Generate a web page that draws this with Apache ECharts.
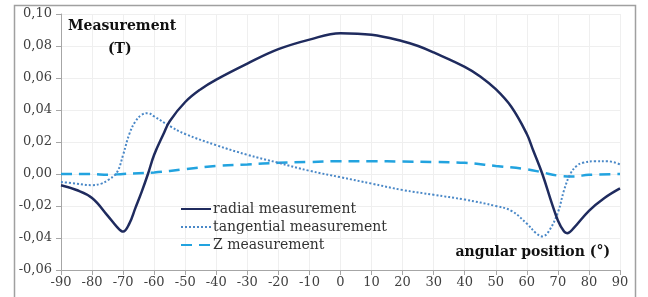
<!DOCTYPE html>
<html>
<head>
<meta charset="utf-8">
<script src="https://cdn.jsdelivr.net/npm/echarts@6/dist/echarts.min.js"></script>
<style>
  html, body { margin: 0; padding: 0; background: #fff; }
  #chart { width: 648px; height: 297px; }
</style>
</head>
<body>
<div id="chart"></div>
<script>
// angles (deg) and values (T)
var radialAngle = [-90, -85, -80, -75, -72, -70, -68, -66, -64, -62, -60, -57, -55, -50, -45, -40, -30, -20, -10, 0, 10, 20, 25, 30, 40, 45, 50, 55, 60, 62, 65, 68, 70, 72, 73, 75, 80, 85, 90];
var radialVal = [-0.007, -0.010, -0.015, -0.026, -0.033, -0.036, -0.031, -0.021, -0.011, 0.000, 0.012, 0.025, 0.033, 0.045, 0.053, 0.059, 0.069, 0.078, 0.084, 0.088, 0.087, 0.083, 0.080, 0.076, 0.067, 0.061, 0.053, 0.042, 0.025, 0.015, 0.000, -0.018, -0.029, -0.036, -0.037, -0.034, -0.023, -0.015, -0.009];

var tangAngle = [-90, -85, -80, -77, -75, -72, -70, -68, -66, -64, -62, -60, -55, -50, -40, -30, -20, -10, 0, 10, 20, 30, 40, 50, 55, 60, 63, 65, 67, 70, 72, 74, 76, 78, 82, 86, 90];
var tangVal = [-0.005, -0.006, -0.007, -0.006, -0.004, 0.001, 0.012, 0.025, 0.033, 0.037, 0.038, 0.036, 0.030, 0.025, 0.018, 0.012, 0.007, 0.002, -0.002, -0.006, -0.010, -0.013, -0.016, -0.020, -0.023, -0.031, -0.037, -0.039, -0.036, -0.024, -0.010, 0.000, 0.005, 0.007, 0.008, 0.008, 0.006];

var zAngle = [-90, -80, -75, -70, -60, -50, -40, -30, -20, -10, 0, 10, 20, 30, 40, 50, 60, 65, 70, 75, 80, 90];
var zVal = [0.000, 0.000, -0.0005, 0.000, 0.001, 0.003, 0.005, 0.006, 0.007, 0.0075, 0.008, 0.008, 0.0078, 0.0075, 0.007, 0.005, 0.003, 0.001, -0.001, -0.0015, -0.0005, 0.000];

var seriesNames = ["radial measurement", "tangential measurement", "Z measurement"];

function pairs(xs, ys) {
  var out = [];
  for (var i = 0; i < xs.length; i++) {
    out.push([xs[i], ys[i]]);
  }
  return out;
}

var serif = "DejaVu Serif";
var myChart = echarts.init(document.getElementById("chart"));
var option = {
  backgroundColor: "#fff",
  animation: false,
  grid: { left: 61, right: 28, top: 14, bottom: 27 },
  legend: {
    orient: "vertical",
    left: 175,
    top: 197,
    itemWidth: 30,
    itemHeight: 14,
    itemGap: 4,
    data: seriesNames,
    itemStyle: { opacity: 0 },
    textStyle: { fontFamily: serif, fontSize: 14, color: "#333", padding: [0, 0, 0, -3] },
  },
  xAxis: {
    type: "value",
    min: -90,
    max: 90,
    interval: 10,
    axisLine: { onZero: false, lineStyle: { color: "#a6a6a6", width: 1 } },
    axisTick: { show: true, length: 5, lineStyle: { color: "#a6a6a6" } },
    axisLabel: { fontFamily: serif, fontSize: 13, color: "#404040", margin: 6 },
    splitLine: { show: true, lineStyle: { color: "#efefef", width: 1 } },
  },
  yAxis: {
    type: "value",
    min: -0.06,
    max: 0.1,
    interval: 0.02,
    axisLine: { show: true, onZero: false, lineStyle: { color: "#a6a6a6", width: 1 } },
    axisTick: { show: true, length: 5, lineStyle: { color: "#a6a6a6" } },
    axisLabel: {
      fontFamily: serif,
      fontSize: 13,
      color: "#404040",
      margin: 9,
      formatter: function (v) {
        return v.toFixed(2).replace(".", ",");
      },
    },
    splitLine: { show: true, lineStyle: { color: "#efefef", width: 1 } },
  },
  series: [
    {
      name: seriesNames[0],
      type: "line",
      data: pairs(radialAngle, radialVal),
      smooth: 0.4,
      symbol: "none",
      lineStyle: { color: "#1f2b5e", width: 2.5 },
      itemStyle: { color: "#1f2b5e" },
      z: 3,
    },
    {
      name: seriesNames[1],
      type: "line",
      data: pairs(tangAngle, tangVal),
      smooth: 0.4,
      symbol: "none",
      lineStyle: { color: "#4a88c7", width: 2, type: [2, 2] },
      itemStyle: { color: "#4a88c7" },
      z: 2,
    },
    {
      name: seriesNames[2],
      type: "line",
      data: pairs(zAngle, zVal),
      smooth: 0.4,
      symbol: "none",
      lineStyle: { color: "#22a3df", width: 2.5, type: [11, 7] },
      itemStyle: { color: "#22a3df" },
      z: 1,
    },
  ],
  graphic: [
    {
      type: "rect",
      z: 100,
      shape: { x: 14.5, y: 5.5, width: 621, height: 320 },
      style: { fill: "none", stroke: "#a0a0a0", lineWidth: 1.5 },
      silent: true,
    },
    {
      type: "text",
      z: 100,
      left: 68,
      top: 19,
      style: { text: "Measurement", font: "bold 14px " + serif, fill: "#111" },
    },
    {
      type: "text",
      z: 100,
      left: 108,
      top: 42,
      style: { text: "(T)", font: "bold 14px " + serif, fill: "#111" },
    },
    {
      type: "text",
      z: 100,
      right: 38,
      top: 245,
      style: { text: "angular position (°)", font: "bold 14px " + serif, fill: "#111" },
    },
  ],
};
myChart.setOption(option);
</script>
</body>
</html>
